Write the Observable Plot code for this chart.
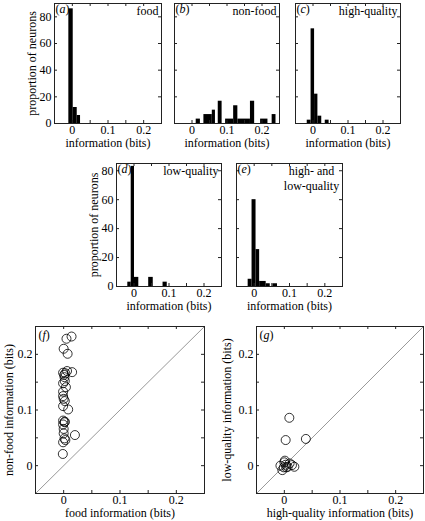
<!DOCTYPE html>
<html><head><meta charset="utf-8">
<script src="https://cdn.jsdelivr.net/npm/d3@7"></script>
<script src="https://cdn.jsdelivr.net/npm/@observablehq/plot@0.6"></script>
<style>
body{margin:0;background:#fff;}
#chart{position:relative;width:425px;height:521px;overflow:hidden;background:#fff;}
#chart svg{position:absolute;}
</style></head><body><div id="chart"></div>
<script>
// ---------- data ----------
// histogram bars: start / end of each bar (bits) and proportion of neurons (%)
const foodStart = [-0.0098, 0.0025, 0.0137];
const foodEnd   = [0.0025, 0.0137, 0.023];
const foodProp  = [86, 12, 6];

const nonFoodStart = [0.012, 0.034, 0.058, 0.075, 0.096, 0.119, 0.131, 0.167, 0.196, 0.229];
const nonFoodEnd   = [0.024, 0.058, 0.067, 0.086, 0.119, 0.131, 0.167, 0.179, 0.217, 0.240];
const nonFoodProp  = [3.3, 6.7, 10, 16.7, 3.3, 13.3, 3.3, 16.7, 3.3, 6.7];

const highQStart = [-0.0165, -0.0055, 0.0045, 0.014, 0.035];
const highQEnd   = [-0.0055, 0.0045, 0.014, 0.025, 0.046];
const highQProp  = [2.5, 71, 22, 5.5, 2.5];

const lowQStart = [-0.0177, -0.008, 0.0014, 0.042, 0.083];
const lowQEnd   = [-0.008, 0.0014, 0.0137, 0.055, 0.095];
const lowQProp  = [3, 83, 6.3, 6.3, 3];

const bothQStart = [-0.017, -0.006, 0.0053, 0.0155, 0.034, 0.053];
const bothQEnd   = [-0.006, 0.0053, 0.0155, 0.034, 0.0455, 0.066];
const bothQProp  = [5, 60, 25.5, 3.5, 1.9, 1.9];

// scatter (f): food vs non-food information per neuron
const foodInfo    = [0.014, 0.005, 0.000, 0.007, -0.001, 0.003, 0.006, 0.015, 0.0015, 0.002, 0.004, -0.001, -0.001, 0.000, 0.002, -0.001, 0.008, -0.001, 0.0015, -0.001, 0.000, 0.000, 0.020, 0.0015, -0.001, -0.0015, 0.003, 0.001, -0.001, 0.002];
const nonFoodInfo = [0.232, 0.228, 0.210, 0.201, 0.167, 0.166, 0.170, 0.168, 0.159, 0.152, 0.141, 0.133, 0.125, 0.120, 0.116, 0.107, 0.101, 0.081, 0.078, 0.074, 0.066, 0.058, 0.055, 0.049, 0.042, 0.021, 0.046, 0.163, 0.148, 0.079];

// scatter (g): high- vs low-quality information per neuron
const highQInfo = [0.009, 0.0024, 0.0387, -0.007, -0.0036, 0.000, 0.0024, 0.006, 0.0095, 0.0137, 0.018, -0.001, 0.0036, 0.001];
const lowQInfo  = [0.086, 0.046, 0.048, 0.000, -0.008, 0.006, 0.0017, -0.002, 0.004, 0.001, -0.002, -0.003, -0.003, 0.009];

// axes
const infoDomain = [-0.05, 0.25];
const infoTicks = [0, 0.05, 0.1, 0.15, 0.2];
const infoTickLabels = [0, 0.1, 0.2];
const propTicks = [0, 20, 40, 60, 80];
const diagonal = [-0.05, 0.25];

// ---------- drawing ----------
const FONT = '"Liberation Serif", "Times New Roman", serif';
const T = 3; // inward tick length
const chart = document.getElementById("chart");

function place(svg, left, top) {
  svg.style.left = left + "px";
  svg.style.top = top + "px";
  d3.select(svg).selectAll("text").each(function () {
    const m = /^\(([a-g])\)$/.exec(this.textContent);
    if (m && this.children.length === 0) {
      const t = d3.select(this);
      t.text(null);
      t.append("tspan").text("(");
      t.append("tspan").attr("font-style", "italic").text(m[1]);
      t.append("tspan").text(")");
    }
  });
  chart.appendChild(svg);
}

function frameMarks(fw, fh, xTicks, yTicks) {
  return [
    Plot.frame({stroke: "#222", strokeWidth: 1}),
    Plot.tickX(xTicks, {x: d => d, insetTop: fh - T, stroke: "#222"}),
    Plot.tickX(xTicks, {x: d => d, insetBottom: fh - T, stroke: "#222"}),
    Plot.tickY(yTicks, {y: d => d, insetRight: fw - T, stroke: "#222"}),
    Plot.tickY(yTicks, {y: d => d, insetLeft: fw - T, stroke: "#222"})
  ];
}

function hist({left, top, width, height, mL, mR, mT, mB, yMax, start, end, prop, letter, name, nameDx = -3, nameAnchor = "end", showY}) {
  const fw = width - mL - mR, fh = height - mT - mB;
  const bars = start.map((s, i) => ({x1: s, x2: end[i], p: prop[i]}));
  const marks = [
    Plot.rect(bars, {x1: "x1", x2: "x2", y1: 0, y2: "p", fill: "black", inset: 0}),
    ...frameMarks(fw, fh, infoTicks, propTicks),
    Plot.axisX(infoTickLabels, {tickSize: 0, tickPadding: 2, tickFormat: d => String(d), label: null, fontSize: 12, fill: "black"}),
    Plot.text(["information (bits)"], {frameAnchor: "bottom", textAnchor: "middle", dy: 23, fontSize: 12, fill: "black"}),
    Plot.text([letter], {frameAnchor: "top-left", textAnchor: "start", lineAnchor: "top", dx: 1, dy: 1, fontSize: 12}),
    Plot.text([name], {frameAnchor: "top-right", textAnchor: nameAnchor, lineAnchor: "top", dx: nameDx, dy: 1, fontSize: 12, lineHeight: 1.25})
  ];
  if (showY) {
    marks.push(Plot.axisY(propTicks, {tickSize: 0, tickPadding: 3, label: null, fontSize: 12, fill: "black"}));
    marks.push(Plot.text(["proportion of neurons"], {frameAnchor: "left", textAnchor: "middle", rotate: -90, dx: -22, fontSize: 12}));
  }
  const svg = Plot.plot({
    width, height, marginLeft: mL, marginRight: mR, marginTop: mT, marginBottom: mB,
    x: {domain: infoDomain},
    y: {domain: [0, yMax], axis: showY ? undefined : null},
    style: {fontFamily: FONT, fontSize: "12px", background: "transparent", color: "black", overflow: "visible"},
    marks
  });
  place(svg, left, top);
}

function scatter({left, top, width, height, mL, mR, mT, mB, xs, ys, letter, xLabel, yLabel, yDx}) {
  const fw = width - mL - mR, fh = height - mT - mB;
  const pts = xs.map((x, i) => ({x, y: ys[i]}));
  const svg = Plot.plot({
    width, height, marginLeft: mL, marginRight: mR, marginTop: mT, marginBottom: mB,
    x: {domain: infoDomain},
    y: {domain: infoDomain},
    style: {fontFamily: FONT, fontSize: "12px", background: "transparent", color: "black", overflow: "visible"},
    marks: [
      Plot.line(diagonal, {x: d => d, y: d => d, stroke: "#999", strokeWidth: 1}),
      Plot.dot(pts, {x: "x", y: "y", r: 4.5, stroke: "black", fill: "none", strokeWidth: 0.8}),
      ...frameMarks(fw, fh, infoTicks, infoTicks),
      Plot.axisX(infoTickLabels, {tickSize: 0, tickPadding: 2, tickFormat: d => String(d), label: null, fontSize: 12, fill: "black"}),
      Plot.axisY(infoTickLabels, {tickSize: 0, tickPadding: 3, tickFormat: d => String(d), label: null, fontSize: 12, fill: "black"}),
      Plot.text([xLabel], {frameAnchor: "bottom", textAnchor: "middle", dy: 23, fontSize: 12}),
      Plot.text([yLabel], {frameAnchor: "left", textAnchor: "middle", rotate: -90, dx: yDx, fontSize: 12}),
      Plot.text([letter], {frameAnchor: "top-left", textAnchor: "start", lineAnchor: "top", dx: 3, dy: 4, fontSize: 12})
    ]
  });
  place(svg, left, top);
}

// row 1
hist({left: 0, top: 0, width: 170, height: 152, mL: 54, mR: 9, mT: 3, mB: 29, yMax: 90,
  start: foodStart, end: foodEnd, prop: foodProp, letter: "(a)", name: "food", showY: true});
hist({left: 165, top: 0, width: 120, height: 152, mL: 9, mR: 6, mT: 3, mB: 29, yMax: 90,
  start: nonFoodStart, end: nonFoodEnd, prop: nonFoodProp, letter: "(b)", name: "non-food", showY: false});
hist({left: 285, top: 0, width: 140, height: 152, mL: 10, mR: 25, mT: 3, mB: 29, yMax: 90,
  start: highQStart, end: highQEnd, prop: highQProp, letter: "(c)", name: "high-quality", showY: false});
// row 2
hist({left: 60, top: 150, width: 170, height: 165, mL: 56, mR: 9, mT: 13, mB: 29, yMax: 85,
  start: lowQStart, end: lowQEnd, prop: lowQProp, letter: "(d)", name: "low-quality", showY: true});
hist({left: 226, top: 150, width: 130, height: 165, mL: 10, mR: 14, mT: 13, mB: 29, yMax: 85,
  start: bothQStart, end: bothQEnd, prop: bothQProp, letter: "(e)", name: "high- and\nlow-quality", nameDx: -31, nameAnchor: "middle", showY: false});
// row 3
scatter({left: 0, top: 315, width: 210, height: 206, mL: 35, mR: 6, mT: 11, mB: 28,
  xs: foodInfo, ys: nonFoodInfo, letter: "(f)", xLabel: "food information (bits)", yLabel: "non-food information (bits)", yDx: -26});
scatter({left: 215, top: 315, width: 210, height: 206, mL: 41, mR: 2, mT: 11, mB: 28,
  xs: highQInfo, ys: lowQInfo, letter: "(g)", xLabel: "high-quality information (bits)", yLabel: "low-quality information (bits)", yDx: -29});
</script>
</body></html>
